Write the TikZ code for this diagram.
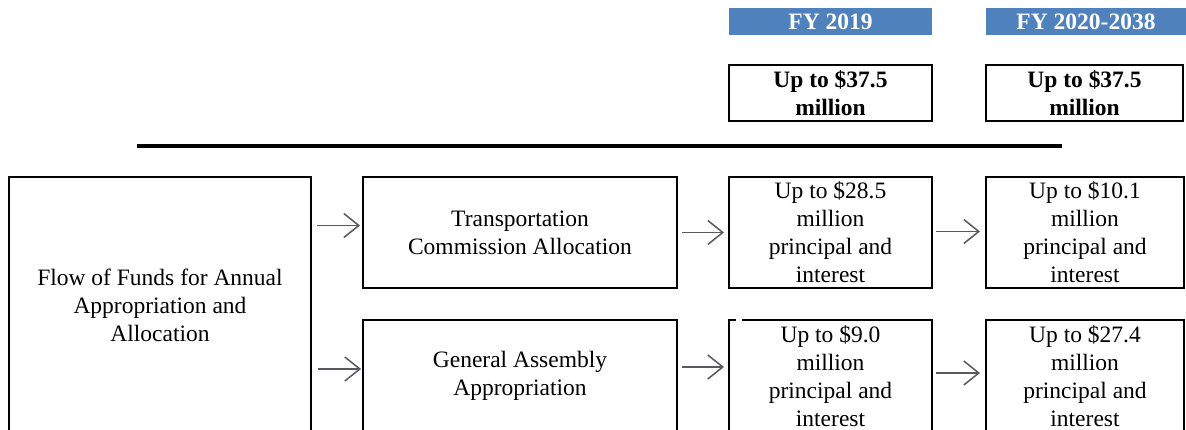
\documentclass[tikz,border=0pt]{standalone}
\usepackage{fontspec}
\setmainfont{Liberation Serif}
\usetikzlibrary{arrows.meta}
\definecolor{hdrblue}{HTML}{4F81BD}
\definecolor{arrgray}{HTML}{595960}
\begin{document}
\begin{tikzpicture}[x=1pt,y=-1pt,
  box/.style={draw=black, line width=2pt, inner sep=0pt, align=center,
    font=\fontsize{23.5}{28}\selectfont},
  boldbox/.style={box, font=\fontsize{23.5}{28}\selectfont\bfseries},
  hdr/.style={fill=hdrblue, text=white, inner sep=0pt, align=center,
    font=\fontsize{23.5}{28}\selectfont\bfseries},
  arr/.style={draw=arrgray, line width=1.5pt, -{Straight Barb[length=15pt,width=24pt]}}]
\clip (0,0) rectangle (1186,430);
\fill[white] (0,0) rectangle (1186,430);
% headers
\node[hdr, minimum width=203, minimum height=27] (h1) at (830.5,21.5) {FY 2019};
\node[hdr, minimum width=200, minimum height=27] (h2) at (1086,21.5) {FY 2020-2038};
\node[boldbox, minimum width=203, minimum height=56] (t1) at (830.5,93) {Up to \$37.5\\million};
\node[boldbox, minimum width=197, minimum height=56] (t2) at (1084.5,93) {Up to \$37.5\\million};
% separator
\draw[line width=4pt] (137,146) -- (1062,146);
% boxes
\node[box, minimum width=302, minimum height=256] (L) at (160,305) {Flow of Funds for Annual\\Appropriation and\\Allocation};
\node[box, minimum width=314, minimum height=111] (M1) at (520,232.5) {Transportation\\Commission Allocation};
\node[box, minimum width=314, minimum height=112] (M2) at (520,376) {General Assembly\\Appropriation};
\node[box, minimum width=203, minimum height=111] (A1) at (830.5,232.5) {Up to \$28.5\\million\\principal and\\interest};
\node[box, minimum width=203, minimum height=112] (A2) at (830.5,376) {Up to \$9.0\\million\\principal and\\interest};
\node[box, minimum width=198, minimum height=111] (B1) at (1085,232.5) {Up to \$10.1\\million\\principal and\\interest};
\node[box, minimum width=198, minimum height=112] (B2) at (1085,376) {Up to \$27.4\\million\\principal and\\interest};
\fill[white] (736,318) rectangle (742,322);
% arrows
\draw[arr] ([xshift=5pt,yshift=7pt]L.east |- M1.west) -- ([xshift=-2pt,yshift=7pt]M1.west);
\draw[arr] ([xshift=6pt,yshift=7pt]L.east |- M2.west) -- ([xshift=-1pt,yshift=7pt]M2.west);
\draw[arr] ([xshift=4pt]M1.east) -- ([xshift=-4pt]A1.west);
\draw[arr] ([xshift=4pt,yshift=9pt]M2.east) -- ([xshift=-4pt,yshift=9pt]A2.west);
\draw[arr] ([xshift=3pt,yshift=1pt]A1.east) -- ([xshift=-5pt,yshift=1pt]B1.west);
\draw[arr] ([xshift=3pt,yshift=3pt]A2.east) -- ([xshift=-5pt,yshift=3pt]B2.west);
\end{tikzpicture}
\end{document}
